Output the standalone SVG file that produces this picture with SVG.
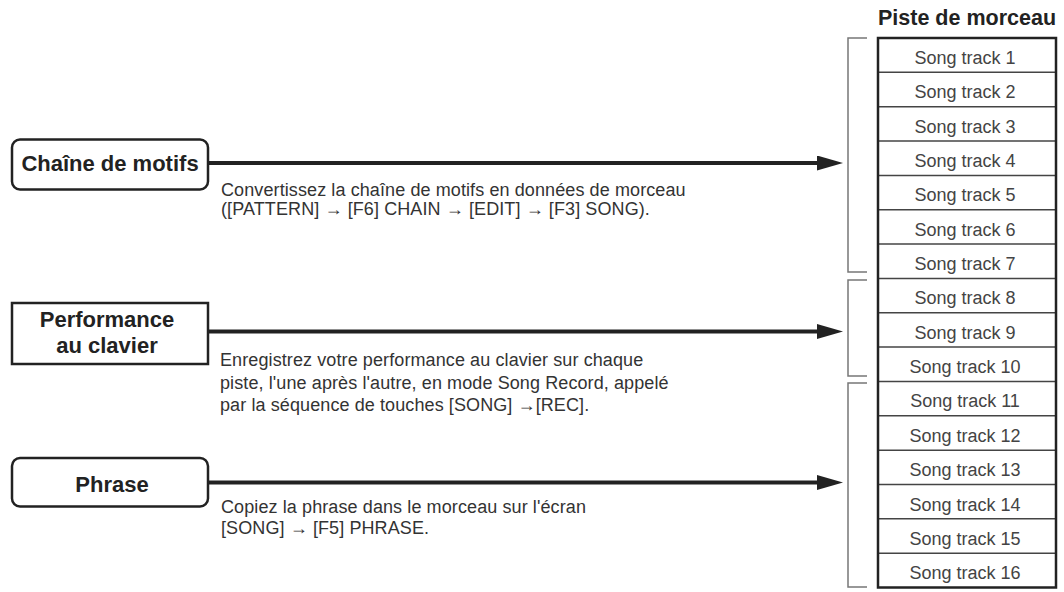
<svg xmlns="http://www.w3.org/2000/svg" width="1064" height="592" viewBox="0 0 1064 592">
<style>
  .box { fill: #fff; stroke: #222; stroke-width: 2.5; }
  .title { font-family: "Liberation Sans", Arial, sans-serif; font-weight: bold; font-size: 22px; fill: #222; text-anchor: middle; }
  .desc { font-family: "Liberation Sans", Arial, sans-serif; font-size: 18px; fill: #333; letter-spacing: 0.1px; }
  .conn { stroke: #222; stroke-width: 4; fill: none; }
  .bracket { stroke: #777; stroke-width: 1.5; fill: none; }
  .row { stroke: #444; stroke-width: 1.5; }
  .track { font-family: "Liberation Sans", Arial, sans-serif; font-size: 18px; fill: #444; text-anchor: middle; }
  .head { font-family: "Liberation Sans", Arial, sans-serif; font-weight: bold; font-size: 21.5px; fill: #222; text-anchor: middle; }
</style>
<defs>
  <marker id="arrow" markerUnits="userSpaceOnUse" markerWidth="26" markerHeight="15" refX="8" refY="7.5" orient="auto">
    <path d="M0,0 L26,7.5 L0,15 z" fill="#222"/>
  </marker>
</defs>
<rect width="1064" height="592" fill="#fff"/>

<g id="connectors">
  <line class="conn" x1="208" y1="163" x2="825" y2="163" marker-end="url(#arrow)"/>
  <line class="conn" x1="208" y1="331.5" x2="825" y2="331.5" marker-end="url(#arrow)"/>
  <line class="conn" x1="208" y1="482.5" x2="825" y2="482.5" marker-end="url(#arrow)"/>
</g>

<g id="node-chaine">
  <rect class="box" x="12" y="139.5" width="196" height="50" rx="8"/>
  <text class="title" x="110" y="171">Chaîne de motifs</text>
  <text class="desc" x="221" y="196">Convertissez la chaîne de motifs en données de morceau</text>
  <text class="desc" x="221" y="215">([PATTERN] → [F6] CHAIN → [EDIT] → [F3] SONG).</text>
</g>

<g id="node-performance">
  <rect class="box" x="12" y="303" width="196" height="61"/>
  <text class="title" x="107" y="327">Performance</text>
  <text class="title" x="107" y="353">au clavier</text>
  <text class="desc" x="220" y="366">Enregistrez votre performance au clavier sur chaque</text>
  <text class="desc" x="220" y="389">piste, l'une après l'autre, en mode Song Record, appelé</text>
  <text class="desc" x="220" y="411">par la séquence de touches [SONG] →[REC].</text>
</g>

<g id="node-phrase">
  <rect class="box" x="12" y="458" width="196" height="48.5" rx="8"/>
  <text class="title" x="112" y="492">Phrase</text>
  <text class="desc" x="221" y="513">Copiez la phrase dans le morceau sur l'écran</text>
  <text class="desc" x="221" y="534">[SONG] → [F5] PHRASE.</text>
</g>

<g id="brackets">
  <path class="bracket" d="M867,38 H848 V272 H867"/>
  <path class="bracket" d="M867,280 H848 V376 H867"/>
  <path class="bracket" d="M867,383 H848 V587 H867"/>
</g>

<g id="track-table">
  <text class="head" x="967" y="25">Piste de morceau</text>
  <g class="rows">
    <line class="row" x1="878" y1="72.34" x2="1056" y2="72.34"/>
    <line class="row" x1="878" y1="106.69" x2="1056" y2="106.69"/>
    <line class="row" x1="878" y1="141.03" x2="1056" y2="141.03"/>
    <line class="row" x1="878" y1="175.38" x2="1056" y2="175.38"/>
    <line class="row" x1="878" y1="209.72" x2="1056" y2="209.72"/>
    <line class="row" x1="878" y1="244.06" x2="1056" y2="244.06"/>
    <line class="row" x1="878" y1="278.41" x2="1056" y2="278.41"/>
    <line class="row" x1="878" y1="312.75" x2="1056" y2="312.75"/>
    <line class="row" x1="878" y1="347.09" x2="1056" y2="347.09"/>
    <line class="row" x1="878" y1="381.44" x2="1056" y2="381.44"/>
    <line class="row" x1="878" y1="415.78" x2="1056" y2="415.78"/>
    <line class="row" x1="878" y1="450.13" x2="1056" y2="450.13"/>
    <line class="row" x1="878" y1="484.47" x2="1056" y2="484.47"/>
    <line class="row" x1="878" y1="518.81" x2="1056" y2="518.81"/>
    <line class="row" x1="878" y1="553.16" x2="1056" y2="553.16"/>
  </g>
  <rect x="878" y="38" width="178" height="549.5" fill="none" stroke="#222" stroke-width="2.5"/>
  <text class="track" x="965" y="64">Song track 1</text>
  <text class="track" x="965" y="98.3">Song track 2</text>
  <text class="track" x="965" y="132.7">Song track 3</text>
  <text class="track" x="965" y="167">Song track 4</text>
  <text class="track" x="965" y="201.4">Song track 5</text>
  <text class="track" x="965" y="235.7">Song track 6</text>
  <text class="track" x="965" y="270.1">Song track 7</text>
  <text class="track" x="965" y="304.4">Song track 8</text>
  <text class="track" x="965" y="338.8">Song track 9</text>
  <text class="track" x="965" y="373.1">Song track 10</text>
  <text class="track" x="965" y="407.4">Song track 11</text>
  <text class="track" x="965" y="441.8">Song track 12</text>
  <text class="track" x="965" y="476.1">Song track 13</text>
  <text class="track" x="965" y="510.5">Song track 14</text>
  <text class="track" x="965" y="544.8">Song track 15</text>
  <text class="track" x="965" y="579.2">Song track 16</text>
</g>
</svg>
